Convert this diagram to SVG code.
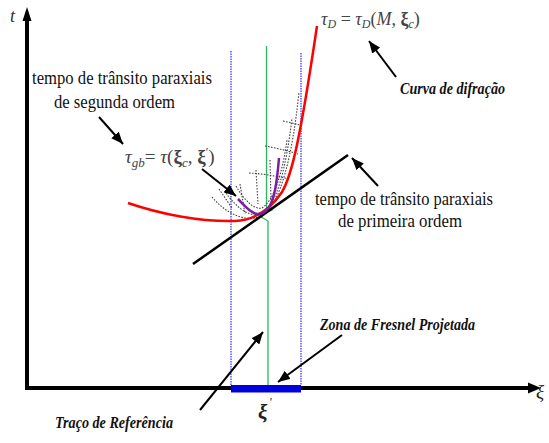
<svg xmlns="http://www.w3.org/2000/svg" width="549" height="443" viewBox="0 0 549 443">
<defs>
<marker id="ah" viewBox="0 0 12 10" refX="12" refY="5" markerWidth="12" markerHeight="10" markerUnits="userSpaceOnUse" orient="auto"><path d="M0,0 L12,5 L0,10 z" fill="#000"/></marker>
</defs>
<style>
.lbl{font-family:"Liberation Serif","Times New Roman",serif;font-size:18px;fill:#111}
.bi{font-family:"Liberation Serif","Times New Roman",serif;font-weight:bold;font-style:italic;font-size:16px;fill:#111}
.math{font-family:"Liberation Serif","Times New Roman",serif;font-style:italic;font-size:18px;fill:#444}
.bx{font-weight:bold;font-style:normal}
.ann{stroke:#000;stroke-width:2;fill:none;marker-end:url(#ah)}
.grid{stroke:#444;stroke-width:1.1;stroke-dasharray:1.6 1.4;fill:none}
.guide{stroke:#0000ff;stroke-width:1;stroke-dasharray:1.5 1;fill:none}
</style>
<rect width="549" height="443" fill="#fff"/>

<g id="axes">
<path d="M27,388 V20 M25,388 H530" stroke="#000" stroke-width="4" fill="none"/>
<polygon points="27,7 22.5,21 31.5,21" fill="#000"/>
<polygon points="541,388 528,382.5 528,393.5" fill="#000"/>
<text x="10" y="22" class="math" style="font-size:18px;fill:#333">t</text>
<text x="536" y="398" class="math" style="font-size:19px;fill:#222">ξ</text>
</g>

<g id="guides">
<line x1="231" y1="51" x2="231" y2="385" class="guide"/>
<line x1="301" y1="53" x2="301" y2="385" class="guide"/>
<path d="M266.5,46 V208 L272,210 L258,215 L268,221 V385" stroke="#2eb85c" stroke-width="1.3" fill="none"/>
</g>

<g id="fresnel-zone">
<rect x="231" y="385" width="70" height="7.5" fill="#0000dd"/>
<text x="258" y="419" class="math" style="font-size:21px;fill:#222;font-weight:bold">ξ</text>
<text x="269" y="406" class="math" style="font-size:12px;fill:#222">′</text>
</g>

<g id="mesh">
<path class="grid" d="M212,197 C228,216 250,224 264,214 C280,202 292,160 299,92"/>
<path class="grid" d="M226,193 C238,210 252,218 262,214 C276,206 286,170 292,118"/>
<path class="grid" d="M236,186 C244,200 254,210 262,208 C274,200 282,175 287,140"/>
<path class="grid" d="M265,146 Q282,149 298,154"/>
<path class="grid" d="M249,173 Q268,174 289,179"/>
<path class="grid" d="M283,121 Q292,123 300,125"/>
<path class="grid" d="M240,184 L245,214"/>
<path class="grid" d="M256,170 L258,204"/>
<path class="grid" d="M270,160 L271,200"/>
<path class="grid" d="M219,189 L232,208"/>
</g>

<g id="tangent-line">
<line x1="193" y1="264" x2="348" y2="155" stroke="#000" stroke-width="2.5"/>
</g>

<g id="diffraction-curve">
<path d="M128,203 C160,214 200,222 235,221 C255,220 270,210 282,192 C292,175 300,140 317,26" stroke="#ff0000" stroke-width="2.5" fill="none"/>
</g>

<g id="second-order-curve">
<path d="M238,199 C246,207 252,214 258,214 C266,214 272,205 275,190 C277,180 278,170 279,158" stroke="#7a1fa0" stroke-width="2.5" fill="none"/>
</g>

<g id="connectors">
<line x1="99" y1="117" x2="123" y2="144" class="ann"/>
<line x1="202" y1="169" x2="236" y2="196" class="ann"/>
<line x1="396" y1="77" x2="369" y2="41" class="ann"/>
<line x1="378" y1="186" x2="352" y2="158" class="ann"/>
<line x1="342" y1="335" x2="278" y2="382" class="ann"/>
<line x1="200" y1="410" x2="263" y2="332" class="ann"/>
</g>

<g id="label-second-order">
<text x="32" y="84" class="lbl" textLength="180" lengthAdjust="spacingAndGlyphs">tempo de trânsito paraxiais</text>
<text x="54" y="108" class="lbl" textLength="121" lengthAdjust="spacingAndGlyphs">de segunda ordem</text>
</g>

<g id="label-first-order">
<text x="315" y="205" class="lbl" textLength="178" lengthAdjust="spacingAndGlyphs">tempo de trânsito paraxiais</text>
<text x="338" y="227" class="lbl" textLength="124" lengthAdjust="spacingAndGlyphs">de primeira ordem</text>
</g>

<g id="label-tau-gb">
<text x="125" y="163" class="math" style="font-size:19px">τ<tspan font-size="13" dy="4">gb</tspan><tspan dy="-4" font-style="normal">= </tspan>τ<tspan font-style="normal">(</tspan><tspan class="bx">ξ</tspan><tspan font-size="13" dy="4">c</tspan><tspan dy="-4" font-style="normal">, </tspan><tspan class="bx">ξ</tspan><tspan font-size="12" dy="-7" font-style="normal">′</tspan><tspan dy="7" font-style="normal">)</tspan></text>
</g>

<g id="label-tau-d">
<text x="321" y="25" class="math">τ<tspan font-size="12" dy="3">D</tspan><tspan dy="-3" font-style="normal"> = </tspan>τ<tspan font-size="12" dy="3">D</tspan><tspan dy="-3" font-style="normal">(</tspan>M<tspan font-style="normal">, </tspan><tspan class="bx">ξ</tspan><tspan font-size="12" dy="3">c</tspan><tspan dy="-3" font-style="normal">)</tspan></text>
</g>

<g id="label-curva">
<text x="400" y="94" class="bi" textLength="105" lengthAdjust="spacingAndGlyphs">Curva de difração</text>
</g>

<g id="label-zona">
<text x="320" y="330" class="bi" textLength="155" lengthAdjust="spacingAndGlyphs">Zona de Fresnel Projetada</text>
</g>

<g id="label-traco">
<text x="55" y="428" class="bi" textLength="118" lengthAdjust="spacingAndGlyphs">Traço de Referência</text>
</g>
</svg>
